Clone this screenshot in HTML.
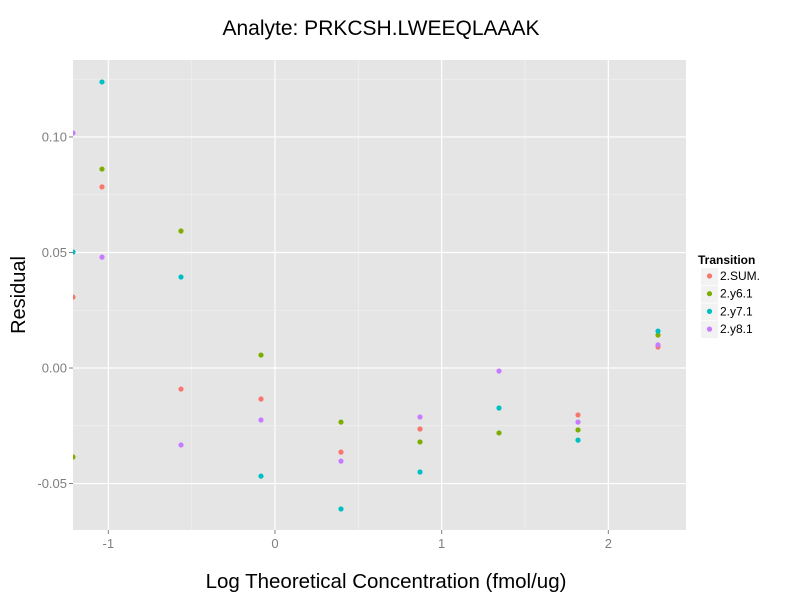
<!DOCTYPE html>
<html><head><meta charset="utf-8">
<style>
body{margin:0;background:#fff;font-family:"Liberation Sans",sans-serif;}
svg text{font-family:"Liberation Sans",sans-serif;}
</style></head>
<body>
<svg id="chart" width="800" height="600">
<rect width="800" height="600" fill="#fff"/>
<text x="381" y="35" font-size="21" text-anchor="middle">Analyte: PRKCSH.LWEEQLAAAK</text>
<rect x="73" y="60" width="613" height="470" fill="#e5e5e5"/>
<g id="grid"></g>
<g id="points"></g>
<g id="axes"></g>
<text x="386" y="588" font-size="20.5" text-anchor="middle">Log Theoretical Concentration (fmol/ug)</text>
<text transform="translate(25,295) rotate(-90)" font-size="20" text-anchor="middle">Residual</text>
<g id="legend">
<text x="698" y="264" font-size="12" font-weight="bold">Transition</text>
</g>
</svg>
<script>
const xVals=[-1.212,-1.038,-0.564,-0.084,0.396,0.870,1.344,1.818,2.298];
const seriesNames=["2.SUM.","2.y6.1","2.y7.1","2.y8.1"];
const seriesColors=["#F8766D","#7CAE00","#00BFC4","#C77CFF"];
const sumVals=[0.0307,0.0784,-0.0091,-0.0134,-0.0364,-0.0264,null,-0.0203,0.0091];
const y6Vals=[-0.0385,0.0861,0.0593,0.0056,-0.0234,-0.032,-0.0281,-0.0268,0.0143];
const y7Vals=[0.0502,0.1238,0.0394,-0.0468,-0.061,-0.045,-0.0173,-0.0312,0.016];
const y8Vals=[0.1017,0.048,-0.0333,-0.0225,-0.0403,-0.0212,-0.0013,-0.0234,0.01];
const xTicks=[-1,0,1,2];
const yTicks=[-0.05,0,0.05,0.10];
const yTickLabels=["-0.05","0.00","0.05","0.10"];
const NS="http://www.w3.org/2000/svg";
const L=73,R=686,T=60,B=530;
const xMin=-1.212,xMax=2.466,yMin=-0.0701,yMax=0.1333;
function sx(v){return L+(v-xMin)/(xMax-xMin)*(R-L);}
function sy(v){return B-(v-yMin)/(yMax-yMin)*(B-T);}
function mk(tag,attrs,parent){const e=document.createElementNS(NS,tag);for(const k in attrs)e.setAttribute(k,attrs[k]);parent.appendChild(e);return e;}
const grid=document.getElementById('grid');
for(let i=0;i<xTicks.length;i++){
  const m=xTicks[i]-0.5;
  if(m>xMin){const l=mk('line',{x1:sx(m),x2:sx(m),y1:T,y2:B,stroke:'#f2f2f2','stroke-width':0.6},grid);
  
  }
  const g=mk('line',{x1:sx(xTicks[i]),x2:sx(xTicks[i]),y1:T,y2:B,stroke:'#fff','stroke-width':1.2},grid);
  
  
}
{const m=xTicks[xTicks.length-1]+0.5;if(m<xMax){const l=mk('line',{x1:sx(m),x2:sx(m),y1:T,y2:B,stroke:'#f2f2f2','stroke-width':0.6},grid);

}}
for(let v=-0.025;v<yMax;v+=0.05){
  const l=mk('line',{x1:L,x2:R,y1:sy(v),y2:sy(v),stroke:'#f2f2f2','stroke-width':0.6},grid);
  
  
}
const axes=document.getElementById('axes');
yTicks.forEach((v,i)=>{
  const g=mk('line',{x1:L,x2:R,y1:sy(v),y2:sy(v),stroke:'#fff','stroke-width':1.2},grid);
  
  
  mk('line',{x1:L-4,x2:L,y1:sy(v),y2:sy(v),stroke:'#7f7f7f'},axes);
  const t=mk('text',{x:L-6,y:sy(v)+4.5,'font-size':13,fill:'#7f7f7f','text-anchor':'end'},axes);
  t.textContent=yTickLabels[i];
  
  
});
xTicks.forEach(v=>{
  mk('line',{x1:sx(v),x2:sx(v),y1:B,y2:B+4,stroke:'#7f7f7f'},axes);
  const t=mk('text',{x:sx(v),y:B+18,'font-size':13,fill:'#7f7f7f','text-anchor':'middle'},axes);
  t.textContent=String(v);
  
  
});
const pts=document.getElementById('points');
const clip=mk('clipPath',{id:'pc'},pts);mk('rect',{x:L,y:T,width:R-L,height:B-T},clip);
pts.setAttribute('clip-path','url(#pc)');
const allSeries=[sumVals,y6Vals,y7Vals,y8Vals];
allSeries.forEach((vals,si)=>{
  vals.forEach((v,i)=>{
    if(v===null)return;
    const c=mk('circle',{cx:sx(xVals[i]),cy:sy(v),r:2.6,fill:seriesColors[si]},pts);
    
    
  });
});
const leg=document.getElementById('legend');
seriesNames.forEach((n,i)=>{
  const y=276+i*17.7;
  mk('rect',{x:701,y:y-8,width:17,height:17,fill:'#f2f2f2'},leg);
  const c=mk('circle',{cx:709.5,cy:y,r:2.6,fill:seriesColors[i]},leg);
  
  
  const t=mk('text',{x:720,y:y+4,'font-size':12},leg);
  t.textContent=n;
  
  
});
</script>
</body></html>
